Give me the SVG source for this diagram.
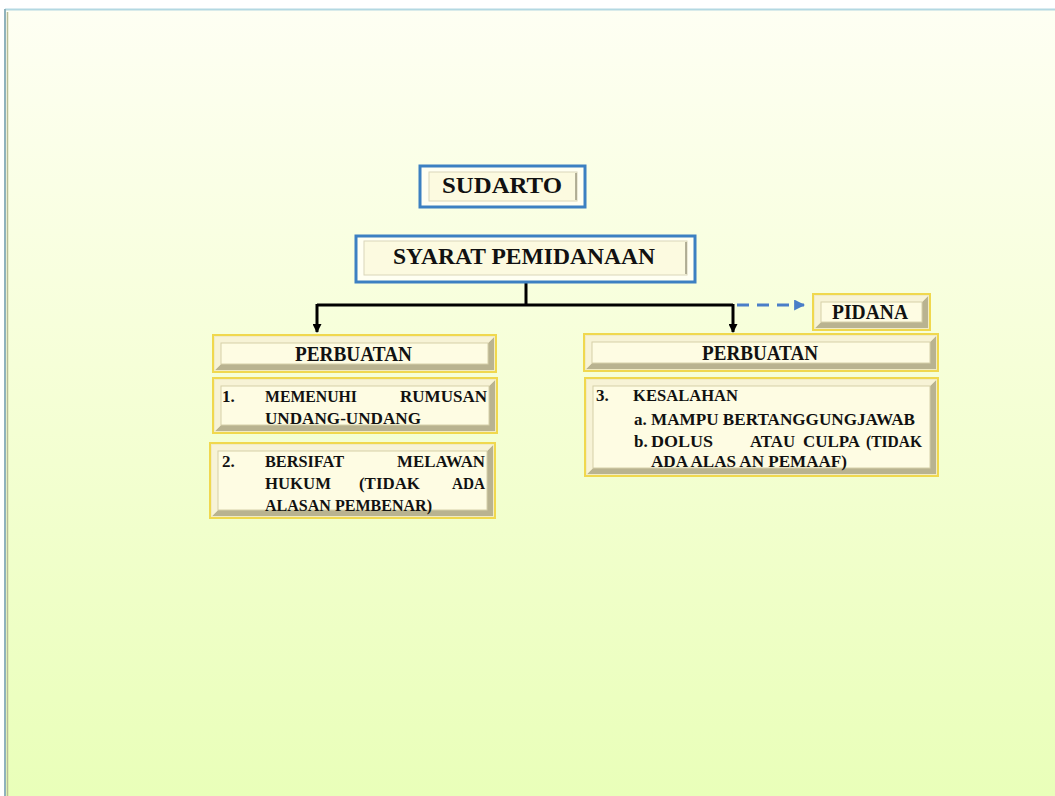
<svg xmlns="http://www.w3.org/2000/svg" width="1055" height="796" viewBox="0 0 1055 796">
<defs>
<linearGradient id="bg" x1="0" y1="0" x2="0" y2="1">
<stop offset="0" stop-color="#FEFFF3"/>
<stop offset="0.45" stop-color="#F6FFD8"/>
<stop offset="1" stop-color="#E9FFB9"/>
</linearGradient>
<marker id="ah" viewBox="0 0 10 10" refX="9" refY="5" markerWidth="10" markerHeight="9" markerUnits="userSpaceOnUse" orient="auto">
<path d="M0,0 L10,5 L0,10 Z" fill="#000"/>
</marker>
<marker id="ahb" viewBox="0 0 10 10" refX="9" refY="5" markerWidth="11" markerHeight="11" markerUnits="userSpaceOnUse" orient="auto">
<path d="M0,0 L10,5 L0,10 Z" fill="#4A7EC8"/>
</marker>
</defs>
<style>
.t{font-family:"Liberation Serif","Times New Roman",serif;font-weight:bold;fill:#111}
.big{font-size:23px}
.mid{font-size:20px}
.sm{font-size:17px}
.out{fill:#F1EBC4;stroke:#F0D84E;stroke-width:2}
.dk{fill:#B9B390}
.lt{fill:#F7F3D6}
.in{fill:#FEFCE3;stroke:#D6D0A8;stroke-width:1}
.bo{fill:#FFFFF2;stroke:#3C80C2;stroke-width:3}
.bi{fill:#FCFAE0;stroke:#DAD6BA;stroke-width:1}
.br{stroke:#9C9880;stroke-width:1.5}
.con{fill:none;stroke:#000;stroke-width:3}
.dash{fill:none;stroke:#4A7EC8;stroke-width:3;stroke-dasharray:12 8}
</style>
<rect x="0" y="0" width="1055" height="796" fill="#FFFFFF"/>
<rect x="5" y="10" width="1050" height="786" fill="url(#bg)"/>
<line x1="5" y1="9.5" x2="1055" y2="9.5" stroke="#B3D8E2" stroke-width="2"/>
<line x1="5" y1="9" x2="5" y2="796" stroke="#8FB2BC" stroke-width="2"/>
<line x1="7.5" y1="12" x2="7.5" y2="796" stroke="#B8BC98" stroke-width="1.5"/>

<g id="connectors">
<path class="con" d="M526,283 L526,305"/>
<path class="con" d="M317,305 L733,305"/>
<path class="con" d="M317,304 L317,332" marker-end="url(#ah)"/>
<path class="con" d="M733,304 L733,332" marker-end="url(#ah)"/>
<path class="dash" d="M737,305 L804,305" marker-end="url(#ahb)"/>
</g>

<g id="sudarto">
<rect class="bo" x="420" y="166" width="165" height="41"/>
<rect class="bi" x="429" y="172" width="148" height="29"/>
<line class="br" x1="576" y1="173" x2="576" y2="200"/>
<text class="t big" x="442" y="193" textLength="120" lengthAdjust="spacingAndGlyphs">SUDARTO</text>
</g>

<g id="syarat">
<rect class="bo" x="356" y="236" width="339" height="46"/>
<rect class="bi" x="364" y="241" width="323" height="34"/>
<line class="br" x1="686" y1="242" x2="686" y2="274"/>
<text class="t big" x="393" y="264" textLength="262" lengthAdjust="spacingAndGlyphs">SYARAT PEMIDANAAN</text>
</g>

<g id="pidana">
<rect class="out" x="813" y="294" width="117" height="36"/>
<polygon class="dk" points="928,296 928,328 815,328 821,322 922,322 922,302"/>
<polygon class="lt" points="815,296 928,296 922,302 821,302 821,322 815,328"/>
<rect class="in" x="821" y="302" width="101" height="20"/>
<text class="t mid" x="832" y="319" textLength="76" lengthAdjust="spacingAndGlyphs">PIDANA</text>
</g>

<g id="perbuatan-left">
<rect class="out" x="213" y="335" width="283" height="37"/>
<polygon class="dk" points="494,337 494,370 215,370 221,364 488,364 488,343"/>
<polygon class="lt" points="215,337 494,337 488,343 221,343 221,364 215,370"/>
<rect class="in" x="221" y="343" width="267" height="21"/>
<text class="t mid" x="295" y="361" textLength="117" lengthAdjust="spacingAndGlyphs">PERBUATAN</text>
</g>

<g id="perbuatan-right">
<rect class="out" x="584" y="334" width="354" height="37"/>
<polygon class="dk" points="936,336 936,369 586,369 592,363 930,363 930,342"/>
<polygon class="lt" points="586,336 936,336 930,342 592,342 592,363 586,369"/>
<rect class="in" x="592" y="342" width="338" height="21"/>
<text class="t mid" x="702" y="360" textLength="116" lengthAdjust="spacingAndGlyphs">PERBUATAN</text>
</g>

<g id="item1">
<rect class="out" x="213" y="378" width="284" height="55"/>
<polygon class="dk" points="495,380 495,431 215,431 221,425 489,425 489,386"/>
<polygon class="lt" points="215,380 495,380 489,386 221,386 221,425 215,431"/>
<rect class="in" x="221" y="386" width="268" height="39"/>
<text class="t sm" x="222" y="402">1.</text>
<text class="t sm" x="265" y="402" textLength="92" lengthAdjust="spacingAndGlyphs">MEMENUHI</text>
<text class="t sm" x="400" y="402" textLength="87" lengthAdjust="spacingAndGlyphs">RUMUSAN</text>
<text class="t sm" x="265" y="424" textLength="156" lengthAdjust="spacingAndGlyphs">UNDANG-UNDANG</text>
</g>

<g id="item2">
<rect class="out" x="210" y="443" width="285" height="75"/>
<polygon class="dk" points="493,445 493,516 212,516 218,510 487,510 487,451"/>
<polygon class="lt" points="212,445 493,445 487,451 218,451 218,510 212,516"/>
<rect class="in" x="218" y="451" width="269" height="59"/>
<text class="t sm" x="222" y="467">2.</text>
<text class="t sm" x="265" y="467" textLength="79" lengthAdjust="spacingAndGlyphs">BERSIFAT</text>
<text class="t sm" x="397" y="467" textLength="88" lengthAdjust="spacingAndGlyphs">MELAWAN</text>
<text class="t sm" x="265" y="489" textLength="66" lengthAdjust="spacingAndGlyphs">HUKUM</text>
<text class="t sm" x="359" y="489" textLength="61" lengthAdjust="spacingAndGlyphs">(TIDAK</text>
<text class="t sm" x="452" y="489" textLength="33" lengthAdjust="spacingAndGlyphs">ADA</text>
<text class="t sm" x="265" y="511" textLength="167" lengthAdjust="spacingAndGlyphs">ALASAN PEMBENAR)</text>
</g>

<g id="item3">
<rect class="out" x="585" y="378" width="353" height="98"/>
<polygon class="dk" points="936,380 936,474 587,474 593,468 930,468 930,386"/>
<polygon class="lt" points="587,380 936,380 930,386 593,386 593,468 587,474"/>
<rect class="in" x="593" y="386" width="337" height="82"/>
<text class="t sm" x="596" y="401">3.</text>
<text class="t sm" x="633" y="401" textLength="105" lengthAdjust="spacingAndGlyphs">KESALAHAN</text>
<text class="t sm" x="634" y="425">a.</text>
<text class="t sm" x="651" y="425" textLength="264" lengthAdjust="spacingAndGlyphs">MAMPU BERTANGGUNGJAWAB</text>
<text class="t sm" x="634" y="447">b.</text>
<text class="t sm" x="651" y="447" textLength="62" lengthAdjust="spacingAndGlyphs">DOLUS</text>
<text class="t sm" x="750" y="447" textLength="45" lengthAdjust="spacingAndGlyphs">ATAU</text>
<text class="t sm" x="803" y="447" textLength="57" lengthAdjust="spacingAndGlyphs">CULPA</text>
<text class="t sm" x="866" y="447" textLength="56" lengthAdjust="spacingAndGlyphs">(TIDAK</text>
<text class="t sm" x="651" y="467" textLength="196" lengthAdjust="spacingAndGlyphs">ADA ALAS AN PEMAAF)</text>
</g>
</svg>
